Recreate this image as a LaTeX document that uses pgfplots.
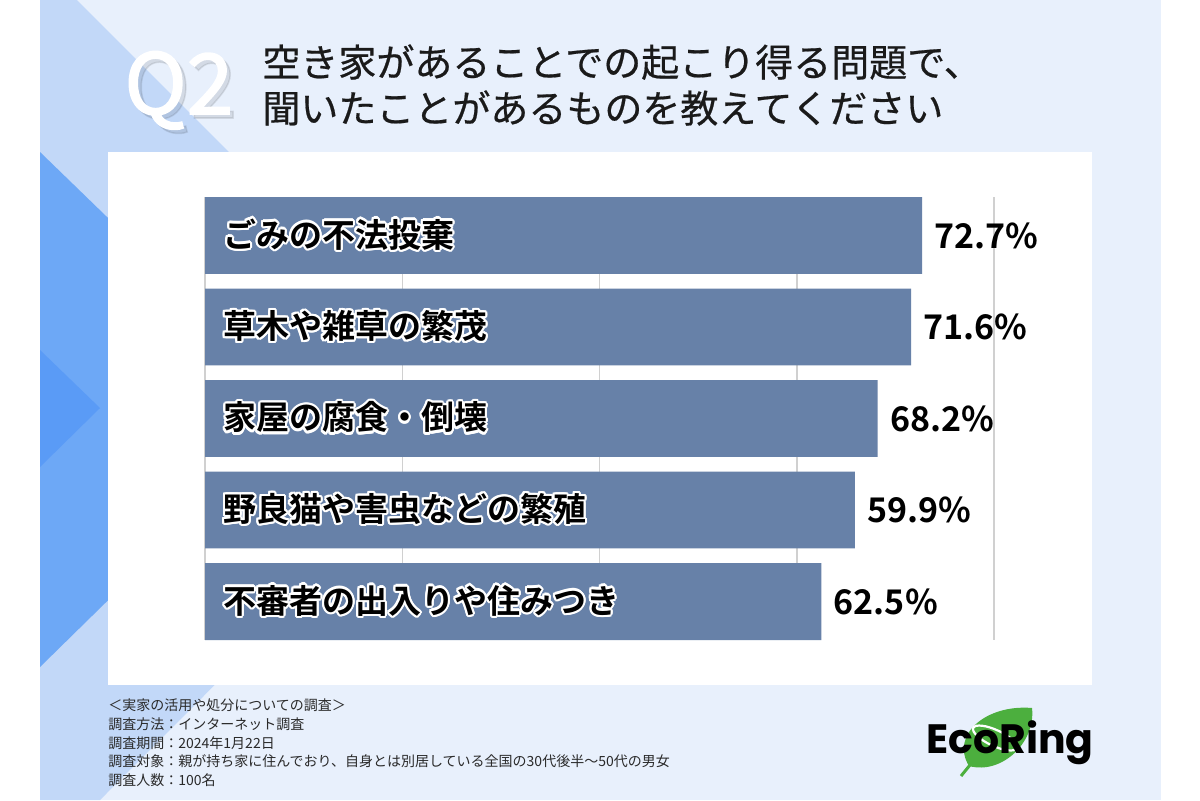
\documentclass[border=0pt]{standalone}
\usepackage{fontspec}
\usepackage{pgfplots}
\pgfplotsset{compat=1.18}
\usepackage{pgfplotstable}
\usepackage[copies]{contour}
\setmainfont{Noto Sans CJK JP}
\newfontfamily\jp[FakeBold=0.5]{Noto Sans CJK JP}
\newfontfamily\jpn{Noto Sans CJK JP}
\newfontfamily\jpb{Noto Sans CJK JP Bold}
\newfontfamily\qfont[FakeBold=1.8]{Noto Sans CJK JP}
\newfontfamily\logofont{Poppins}
\definecolor{pale}{HTML}{E8F0FC}
\definecolor{lightblue}{HTML}{C2D8F8}
\definecolor{midblue}{HTML}{6DA8F6}
\definecolor{darkblue}{HTML}{5A9BF6}
\definecolor{barblue}{HTML}{6781A8}
\definecolor{gridgray}{HTML}{D0D0D0}
\definecolor{titlecol}{HTML}{1A1A1A}
\definecolor{notecol}{HTML}{2A2A2A}
\definecolor{leafgreen}{HTML}{4CAF3E}
\contourlength{1.1pt}
\contournumber{16}

\pgfplotstableread{
idx base value label cat
1 0 72.7 72.7 ごみの不法投棄
2 0 71.6 71.6 草木や雑草の繁茂
3 0 68.2 68.2 家屋の腐食・倒壊
4 0 65.9 59.9 野良猫や害虫などの繁殖
5 0 62.5 62.5 不審者の出入りや住みつき
}\datatable

\begin{document}
\begin{tikzpicture}
\begin{scope}[x=0.5pt,y=-0.5pt]
\useasboundingbox (0,0) rectangle (1200,800);
\fill[white] (0,0) rectangle (1200,800);
\fill[pale] (40,0) rectangle (1161,800);
\fill[lightblue] (40,0) -- (77,0) -- (488,411) -- (100,800) -- (40,800) -- cycle;
\fill[midblue] (40,152) -- (304,408) -- (40,667) -- cycle;
\fill[darkblue] (40,350) -- (100,408) -- (40,467) -- cycle;
\fill[white] (108,152) rectangle (1092,685);
% Q2 with soft shadow
\node[anchor=base west, inner sep=0pt, font=\qfont\fontsize{42pt}{42pt}\selectfont, text=black, opacity=0.09] at (128,118) {Q2};
\node[anchor=base west, inner sep=0pt, font=\qfont\fontsize{42pt}{42pt}\selectfont, text=white] at (124,114) {Q2};
% title
\node[anchor=base west, inner sep=0pt, font=\jp\fontsize{19pt}{19pt}\selectfont, text=titlecol] at (262,76.5) {空き家があることでの起こり得る問題で、};
\node[anchor=base west, inner sep=0pt, font=\jp\fontsize{19pt}{19pt}\selectfont, text=titlecol] at (262,122.5) {聞いたことがあるものを教えてください};
% footnotes
\begin{scope}[every node/.style={anchor=base west, inner sep=0pt, font=\jpn\fontsize{7pt}{7pt}\selectfont, text=notecol}]
\node at (108,710) {＜実家の活用や処分についての調査＞};
\node at (108,729) {調査方法：インターネット調査};
\node at (108,748) {調査期間：2024年1月22日};
\node at (108,766.5) {調査対象：親が持ち家に住んでおり、自身とは別居している全国の30代後半〜50代の男女};
\node at (108,785) {調査人数：100名};
\end{scope}
% logo
\fill[leafgreen] (969,766) .. controls (950,735) and (986,704) .. (1032,708) .. controls (1036,742) and (1002,775) .. cycle;
\draw[leafgreen, line width=1.5pt] (970,765) -- (961,776);
\draw[white, line width=1.1pt, rotate around={-25:(995,738)}] (995,738) ellipse [x radius=12pt, y radius=4pt];
\node[anchor=base west, inner sep=0pt, font=\logofont\bfseries\fontsize{20.5pt}{20.5pt}\selectfont, text=black] at (926,753) {EcoRing};
\end{scope}

\begin{axis}[
  at={(102.5pt,-320pt)}, anchor=south west,
  scale only axis, width=394.5pt, height=221.5pt,
  xmin=0, xmax=80, ymin=0.58, ymax=5.42, y dir=reverse,
  xtick={0,20,40,60,80}, xticklabel=\relax, ytick=\empty,
  xmajorgrids, grid style={gridgray, line width=0.75pt},
  axis line style={draw=none}, tick style={draw=none}, major tick length=0pt,
  clip=false,
]
\addplot[xbar, bar width=0.84, fill=barblue, draw=none,
  point meta=explicit symbolic,
  nodes near coords={\pgfplotspointmeta\%},
  nodes near coords style={anchor=west, inner sep=0pt, xshift=6pt, font=\jpb\fontsize{17pt}{19pt}\selectfont, text=black}]
  table[x=value, y=idx, meta=label]{\datatable};
\addplot[draw=none, mark=none, point meta=explicit symbolic,
  nodes near coords={\contour{white}{\pgfplotspointmeta}},
  nodes near coords style={anchor=west, inner sep=0pt, xshift=9pt, font=\jpb\fontsize{16.5pt}{18pt}\selectfont, text=black}]
  table[x=base, y=idx, meta=cat]{\datatable};
\end{axis}
\end{tikzpicture}
\end{document}
